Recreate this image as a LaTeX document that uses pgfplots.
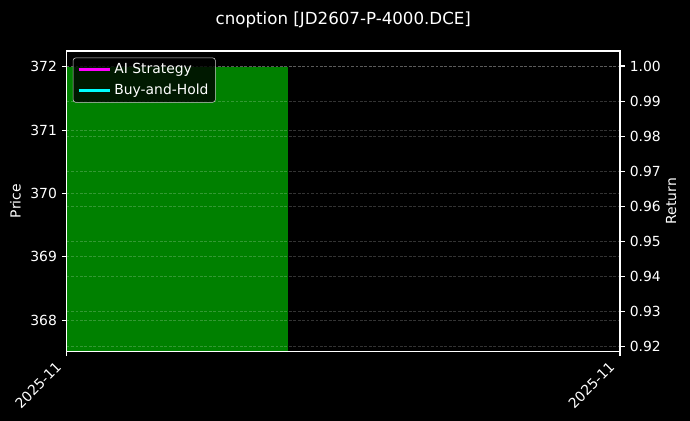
\documentclass[border=0pt]{standalone}
\usepackage{fontspec}
\setmainfont{DejaVu Sans}
\usepackage{pgfplots}
\pgfplotsset{compat=1.18}

\definecolor{mplgreen}{RGB}{0,128,0}
\definecolor{mplmagenta}{RGB}{255,0,255}
\definecolor{mplcyan}{RGB}{0,255,255}

\pgfplotsset{
  darkaxis/.style={
    scale only axis,
    width=398.4pt, height=216.2pt,
    at={(0,0)}, anchor=south west,
    xmin=0, xmax=1,
    axis line style={white, line width=0.8pt},
    tick style={white, line width=0.8pt},
    tick align=outside,
    major tick length=3.5pt,
    ticklabel style={text=white, font=\fontsize{10}{12}\selectfont},
    label style={text=white, font=\fontsize{10}{12}\selectfont},
    /pgf/number format/assume math mode=true,
    grid style={white, draw opacity=0.2, dash pattern=on 2pt off 1.2pt, line width=0.6pt},
  },
}

\begin{document}
\begin{tikzpicture}
\fill[black] (-48pt,-50.2pt) rectangle (448.8pt,252.9pt);

% price axis (left)
\begin{axis}[
    darkaxis,
    axis on top,
    ymin=367.51, ymax=372.25,
    ytick={368,369,370,371,372},
    xtick={0,1},
    xticklabels={2025-11,2025-11},
    xticklabel style={xshift=-8.5pt, yshift=1.5pt, rotate=45, anchor=north east},
    xtick pos=bottom,
    ytick pos=left,
    ymajorgrids=true,
    ylabel={Price},
]
\addplot[fill=mplgreen, draw=none] coordinates {
    (0,367) (0,372) (0.4,372) (0.4,367)
};
\end{axis}

% return axis (right)
\begin{axis}[
    darkaxis,
    axis x line=none,
    axis y line*=right,
    ymin=0.9186, ymax=1.0043,
    ytick={0.92,0.93,0.94,0.95,0.96,0.97,0.98,0.99,1.00},
    yticklabel style={/pgf/number format/.cd, fixed, fixed zerofill, precision=2},
    ymajorgrids=true,
    ylabel={Return},
    ylabel style={yshift=3pt},
    title={cnoption [JD2607-P-4000.DCE]},
    title style={text=white, font=\fontsize{12}{14}\selectfont,
                 at={(0.5,1)}, anchor=center, yshift=16.6pt},
    legend style={
        at={(0.011,0.978)}, anchor=north west,
        fill=black, fill opacity=0.8, text opacity=1, draw opacity=1,
        draw=white!80!black, rounded corners=2pt,
        text=white, font=\fontsize{10}{12}\selectfont,
        row sep=2pt,
    },
    legend cell align=left,
    legend image code/.code={\draw[#1] (0cm,0cm) -- (0.8cm,0cm);},
]
\addplot[mplmagenta, line width=2pt] coordinates {(0,1.0)};
\addlegendentry{AI Strategy}
\addplot[mplcyan, line width=2pt] coordinates {(0,1.0)};
\addlegendentry{Buy-and-Hold}
\end{axis}

\pgfresetboundingbox
\path[use as bounding box] (-48pt,-50.2pt) rectangle (448.8pt,252.9pt);
\end{tikzpicture}
\end{document}
